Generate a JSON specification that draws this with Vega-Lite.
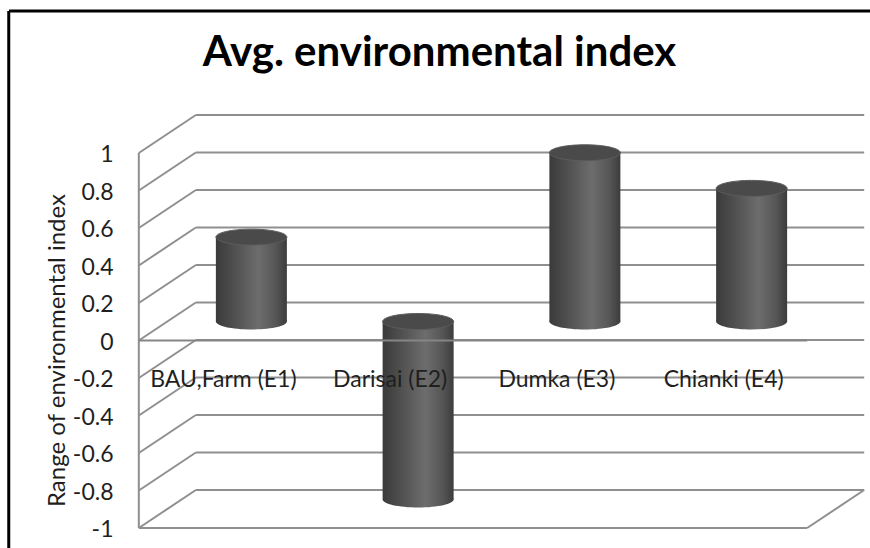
{
  "$schema": "https://vega.github.io/schema/vega-lite/v6.json",
  "width": 861,
  "height": 537,
  "autosize": {"type": "none"},
  "padding": {"left": 9, "top": 11, "right": 0, "bottom": 0},
  "background": "white",
  "config": {"view": {"stroke": null}},
  "title": {
    "text": "Avg. environmental index",
    "font": "Lato",
    "fontSize": 42,
    "fontWeight": "bold",
    "color": "#000000",
    "anchor": "middle",
    "frame": "group",
    "orient": "top",
    "baseline": "alphabetic",
    "offset": -56,
    "dy": 42
  },
  "resolve": {"axis": {"y": "independent", "x": "independent"}},
  "datasets": {
    "sites": [
      {"site": "BAU,Farm (E1)", "value": 0.45},
      {"site": "Darisai (E2)", "value": -0.95},
      {"site": "Dumka (E3)", "value": 0.9},
      {"site": "Chianki (E4)", "value": 0.71}
    ],
    "levels": [
      {"level": -1}, {"level": -0.8}, {"level": -0.6}, {"level": -0.4},
      {"level": -0.2}, {"level": 0}, {"level": 0.2}, {"level": 0.4},
      {"level": 0.6}, {"level": 0.8}, {"level": 1}
    ]
  },
  "layer": [
    {
      "description": "back wall gridlines",
      "data": {"name": "levels"},
      "mark": {"type": "rule", "color": "#8f8f8f", "strokeWidth": 2, "yOffset": -38},
      "encoding": {
        "x": {"datum": "BAU,Farm (E1)", "bandPosition": 0.167,
              "scale": {"type": "band", "domain": ["BAU,Farm (E1)", "Darisai (E2)", "Dumka (E3)", "Chianki (E4)"], "range": [159, 826], "paddingInner": 0, "paddingOuter": 0},
              "axis": null},
        "x2": {"datum": "Chianki (E4)", "bandPosition": 1.175},
        "y": {"field": "level", "type": "quantitative",
              "scale": {"domain": [-1.1067, 1.7573], "nice": false, "zero": false},
              "axis": {
                "values": [-1, -0.8, -0.6, -0.4, -0.2, 0, 0.2, 0.4, 0.6, 0.8, 1],
                "offset": -130,
                "domain": false,
                "ticks": false,
                "tickSize": 0,
                "grid": false,
                "labelPadding": 26,
                "labelFont": "Lato",
                "labelFontSize": 23,
                "labelColor": "#1f1f1f",
                "labelBaseline": "middle",
                "labelOffset": 2,
                "labelExpr": "'' + datum.value",
                "title": "Range of environmental index",
                "titleFont": "Lato",
                "titleFontSize": 24,
                "titleFontWeight": "normal",
                "titleColor": "#1f1f1f",
                "titleAngle": 270,
                "titleX": -75,
                "titleY": 339,
                "titleAlign": "center",
                "titleBaseline": "alphabetic"
              }}
      }
    },
    {
      "description": "side wall diagonals",
      "data": {"name": "levels"},
      "mark": {"type": "rule", "color": "#8f8f8f", "strokeWidth": 2, "y2Offset": -38},
      "encoding": {
        "x": {"datum": "BAU,Farm (E1)", "bandPosition": -0.175, "axis": null},
        "x2": {"datum": "BAU,Farm (E1)", "bandPosition": 0.167},
        "y": {"field": "level", "type": "quantitative", "axis": null},
        "y2": {"field": "level"}
      }
    },
    {
      "description": "front vertical edge",
      "data": {"values": [{}]},
      "mark": {"type": "rule", "color": "#8f8f8f", "strokeWidth": 2},
      "encoding": {
        "x": {"datum": "BAU,Farm (E1)", "bandPosition": -0.175, "axis": null},
        "y": {"datum": -1, "type": "quantitative", "axis": null},
        "y2": {"datum": 1}
      }
    },
    {
      "description": "floor front edge",
      "data": {"values": [{}]},
      "mark": {"type": "rule", "color": "#8f8f8f", "strokeWidth": 2},
      "encoding": {
        "x": {"datum": "BAU,Farm (E1)", "bandPosition": -0.175, "axis": null},
        "x2": {"datum": "Chianki (E4)", "bandPosition": 0.833},
        "y": {"datum": -1, "type": "quantitative", "axis": null}
      }
    },
    {
      "description": "floor right edge",
      "data": {"values": [{}]},
      "mark": {"type": "rule", "color": "#8f8f8f", "strokeWidth": 2, "y2Offset": -38},
      "encoding": {
        "x": {"datum": "Chianki (E4)", "bandPosition": 0.833, "axis": null},
        "x2": {"datum": "Chianki (E4)", "bandPosition": 1.175},
        "y": {"datum": -1, "type": "quantitative", "axis": null},
        "y2": {"datum": -1}
      }
    },
    {
      "description": "cylinder bodies",
      "data": {"name": "sites"},
      "mark": {
        "type": "bar",
        "size": 71,
        "yOffset": -19,
        "y2Offset": -19,
        "fill": {
          "gradient": "linear", "x1": 0, "y1": 0, "x2": 1, "y2": 0,
          "stops": [
            {"offset": 0, "color": "#3a3a3a"},
            {"offset": 0.25, "color": "#4f4f4f"},
            {"offset": 0.6, "color": "#6d6d6d"},
            {"offset": 0.85, "color": "#555555"},
            {"offset": 1, "color": "#3c3c3c"}
          ]
        }
      },
      "encoding": {
        "x": {"field": "site", "type": "nominal", "axis": null},
        "y": {"field": "value", "type": "quantitative", "axis": null},
        "y2": {"datum": 0}
      }
    },
    {
      "description": "rounded bottom of upward cylinders",
      "data": {"name": "sites"},
      "transform": [{"filter": "datum.value > 0"}],
      "mark": {
        "type": "point",
        "shape": "M-1,0A1,0.225 0 1,0 1,0A1,0.225 0 1,0 -1,0Z",
        "size": 5041,
        "filled": true,
        "opacity": 1,
        "strokeWidth": 0,
        "yOffset": -19,
        "fill": {
          "gradient": "linear", "x1": 0, "y1": 0, "x2": 1, "y2": 0,
          "stops": [
            {"offset": 0, "color": "#3a3a3a"},
            {"offset": 0.25, "color": "#4f4f4f"},
            {"offset": 0.6, "color": "#6d6d6d"},
            {"offset": 0.85, "color": "#555555"},
            {"offset": 1, "color": "#3c3c3c"}
          ]
        }
      },
      "encoding": {
        "x": {"field": "site", "type": "nominal", "axis": null},
        "y": {"datum": 0, "type": "quantitative", "axis": null}
      }
    },
    {
      "description": "rounded bottom of downward cylinders",
      "data": {"name": "sites"},
      "transform": [{"filter": "datum.value < 0"}],
      "mark": {
        "type": "point",
        "shape": "M-1,0A1,0.225 0 1,0 1,0A1,0.225 0 1,0 -1,0Z",
        "size": 5041,
        "filled": true,
        "opacity": 1,
        "strokeWidth": 0,
        "yOffset": -19,
        "fill": {
          "gradient": "linear", "x1": 0, "y1": 0, "x2": 1, "y2": 0,
          "stops": [
            {"offset": 0, "color": "#3a3a3a"},
            {"offset": 0.25, "color": "#4f4f4f"},
            {"offset": 0.6, "color": "#6d6d6d"},
            {"offset": 0.85, "color": "#555555"},
            {"offset": 1, "color": "#3c3c3c"}
          ]
        }
      },
      "encoding": {
        "x": {"field": "site", "type": "nominal", "axis": null},
        "y": {"field": "value", "type": "quantitative", "axis": null}
      }
    },
    {
      "description": "top caps of upward cylinders",
      "data": {"name": "sites"},
      "transform": [{"filter": "datum.value > 0"}],
      "mark": {
        "type": "point",
        "shape": "M-1,0A1,0.225 0 1,0 1,0A1,0.225 0 1,0 -1,0Z",
        "size": 5041,
        "filled": true,
        "opacity": 1,
        "fill": "#4a4a4a",
        "stroke": "#5c5c5c",
        "strokeWidth": 1,
        "yOffset": -19
      },
      "encoding": {
        "x": {"field": "site", "type": "nominal", "axis": null},
        "y": {"field": "value", "type": "quantitative", "axis": null}
      }
    },
    {
      "description": "top caps of downward cylinders",
      "data": {"name": "sites"},
      "transform": [{"filter": "datum.value < 0"}],
      "mark": {
        "type": "point",
        "shape": "M-1,0A1,0.225 0 1,0 1,0A1,0.225 0 1,0 -1,0Z",
        "size": 5041,
        "filled": true,
        "opacity": 1,
        "fill": "#4a4a4a",
        "stroke": "#5c5c5c",
        "strokeWidth": 1,
        "yOffset": -19
      },
      "encoding": {
        "x": {"field": "site", "type": "nominal", "axis": null},
        "y": {"datum": 0, "type": "quantitative", "axis": null}
      }
    },
    {
      "description": "category axis line at zero",
      "data": {"values": [{}]},
      "mark": {"type": "rule", "color": "#858585", "strokeWidth": 2},
      "encoding": {
        "x": {"datum": "BAU,Farm (E1)", "bandPosition": -0.175, "axis": null},
        "x2": {"datum": "Chianki (E4)", "bandPosition": 0.833},
        "y": {"datum": 0, "type": "quantitative", "axis": null}
      }
    },
    {
      "description": "category labels",
      "data": {"name": "sites"},
      "mark": {"type": "text", "font": "Lato", "fontSize": 23, "color": "#1f1f1f", "dx": -28, "dy": 2, "baseline": "middle", "align": "center"},
      "encoding": {
        "x": {"field": "site", "type": "nominal", "axis": null},
        "y": {"datum": -0.2, "type": "quantitative", "axis": null},
        "text": {"field": "site"}
      }
    },
    {
      "description": "chart frame, top edge",
      "data": {"values": [{}]},
      "mark": {"type": "rule", "color": "#000000", "strokeWidth": 3},
      "encoding": {
        "y": {"datum": 1.7573, "type": "quantitative", "axis": null}
      }
    },
    {
      "description": "chart frame, left edge",
      "data": {"values": [{}]},
      "mark": {"type": "rule", "color": "#000000", "strokeWidth": 3},
      "encoding": {
        "x": {"datum": "BAU,Farm (E1)", "bandPosition": -0.955, "axis": null},
        "y": {"datum": -1.1067, "type": "quantitative", "axis": null},
        "y2": {"datum": 1.7573}
      }
    }
  ]
}
